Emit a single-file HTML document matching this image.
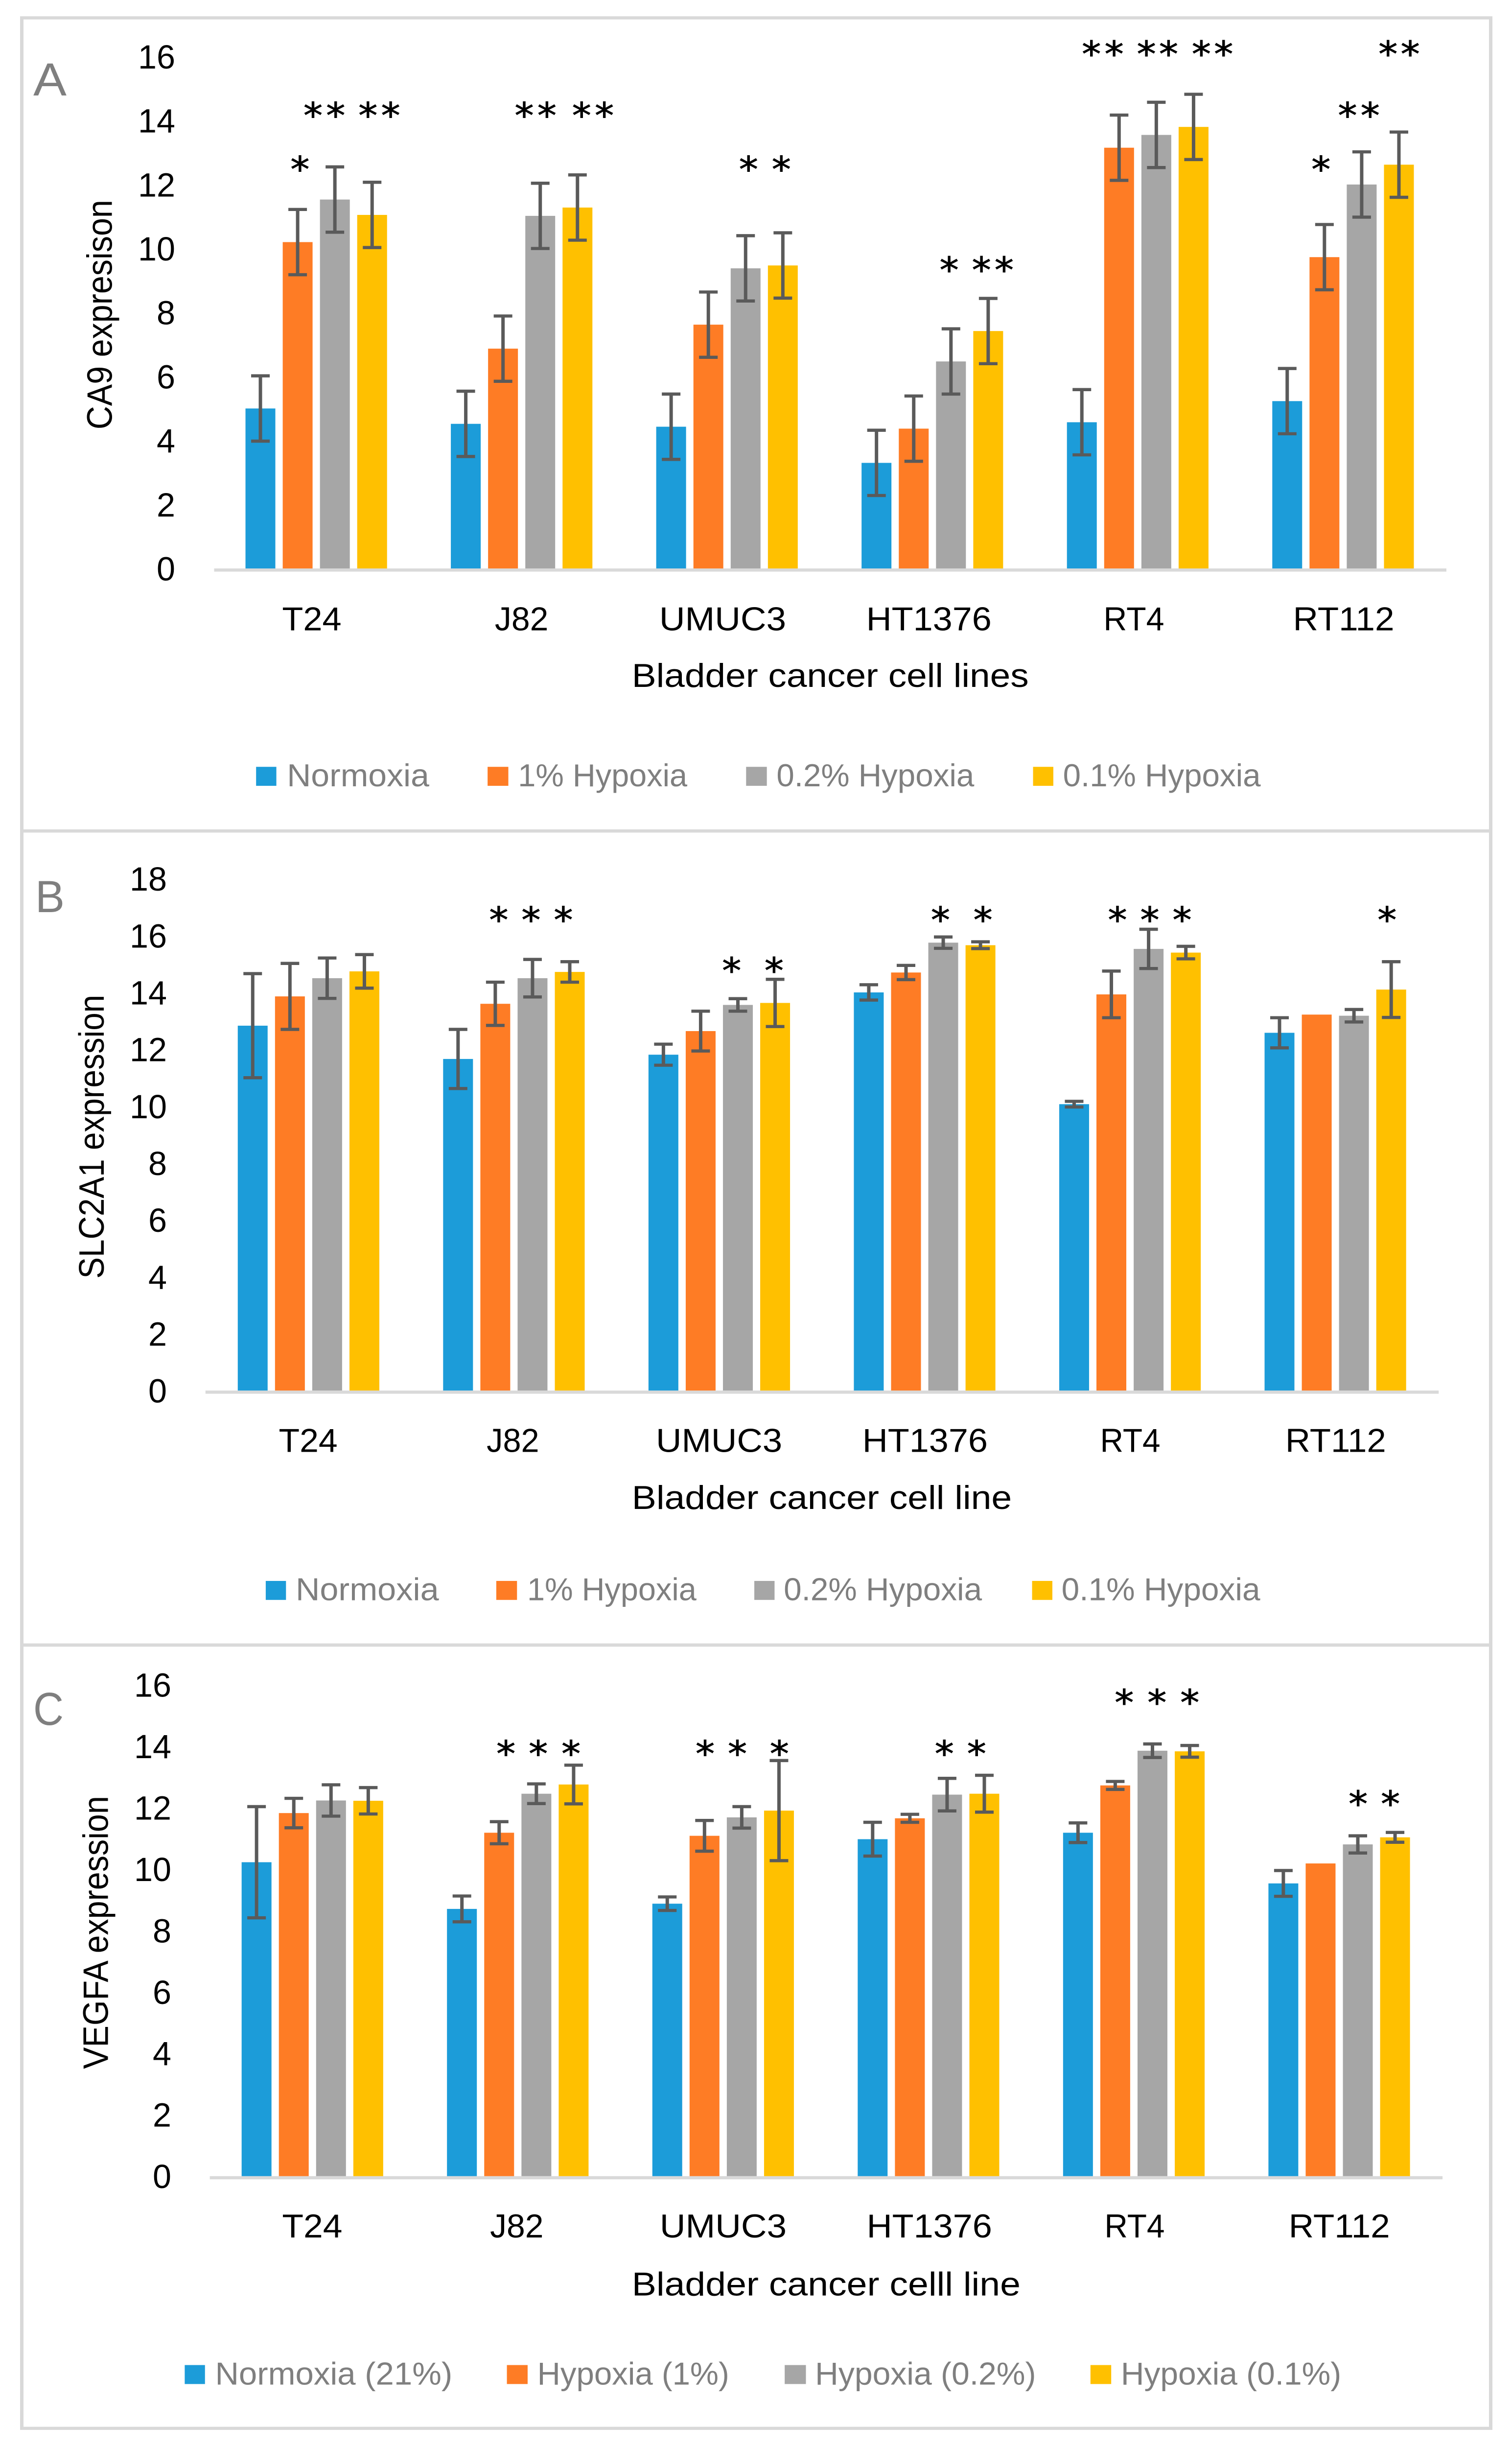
<!DOCTYPE html>
<html lang="en">
<head>
<meta charset="utf-8">
<title>Bladder cancer hypoxia marker expression</title>
<style>
html,body{margin:0;padding:0;background:#fff;width:100%;height:100%;overflow:hidden}
svg{display:block;width:100vw;height:100vh}
text{font-family:"Liberation Sans",sans-serif}
.star{font-family:"DejaVu Sans",sans-serif;stroke:#000;stroke-width:1.1}
</style>
</head>
<body>
<svg id="figure" xmlns="http://www.w3.org/2000/svg" viewBox="0 0 3089 5416" preserveAspectRatio="none">
<rect x="0" y="0" width="3089" height="5416" fill="#ffffff"/>
</svg>
<script>
// ---------- shared data ----------
const categories = ['T24','J82','UMUC3','HT1376','RT4','RT112'];
const ticksTo16 = [0,2,4,6,8,10,12,14,16];
const ticksTo18 = [0,2,4,6,8,10,12,14,16,18];

// ---------- panel A: CA9 ----------
const caNormoxia = [5.0,4.52,4.43,3.3,4.57,5.23];
const caHypoxia1 = [10.2,6.87,7.62,4.37,13.15,9.73];
const caHypoxia02 = [11.53,11.02,9.38,6.47,13.55,12.0];
const caHypoxia01 = [11.05,11.28,9.47,7.42,13.8,12.62];
const caErrNormoxia = [1.02,1.02,1.02,1.02,1.02,1.02];
const caErrHypoxia1 = [1.02,1.02,1.02,1.02,1.02,1.02];
const caErrHypoxia02 = [1.02,1.02,1.02,1.02,1.02,1.02];
const caErrHypoxia01 = [1.02,1.02,1.02,1.02,1.02,1.02];
const caLegend = ['Normoxia','1% Hypoxia','0.2% Hypoxia','0.1% Hypoxia'];

// ---------- panel B: SLC2A1 ----------
const slcNormoxia = [12.83,11.66,11.81,14.0,10.07,12.58];
const slcHypoxia1 = [13.86,13.6,12.64,14.7,13.93,13.22];
const slcHypoxia02 = [14.5,14.5,13.56,15.75,15.53,13.18];
const slcHypoxia01 = [14.74,14.72,13.63,15.66,15.4,14.1];
const slcErrNormoxia = [1.83,1.04,0.37,0.27,0.1,0.53];
const slcErrHypoxia1 = [1.16,0.76,0.7,0.25,0.82,0];
const slcErrHypoxia02 = [0.71,0.66,0.22,0.2,0.69,0.22];
const slcErrHypoxia01 = [0.59,0.36,0.83,0.12,0.22,0.98];
const slcLegend = ['Normoxia','1% Hypoxia','0.2% Hypoxia','0.1% Hypoxia'];

// ---------- panel C: VEGFA ----------
const vegfNormoxia = [10.22,8.7,8.87,10.97,11.18,9.53];
const vegfHypoxia1 = [11.82,11.18,11.08,11.65,12.72,10.18];
const vegfHypoxia02 = [12.23,12.45,11.68,12.42,13.85,10.8];
const vegfHypoxia01 = [12.22,12.75,11.9,12.45,13.83,11.03];
const vegfErrNormoxia = [1.81,0.42,0.22,0.55,0.32,0.42];
const vegfErrHypoxia1 = [0.48,0.36,0.5,0.13,0.13,0];
const vegfErrHypoxia02 = [0.51,0.32,0.35,0.53,0.22,0.28];
const vegfErrHypoxia01 = [0.43,0.63,1.63,0.6,0.19,0.16];
const vegfLegend = ['Normoxia (21%)','Hypoxia (1%)','Hypoxia (0.2%)','Hypoxia (0.1%)'];

// ---------- styling ----------
const seriesColors = ['#1c9cd9','#fe7c25','#a6a6a6','#ffc000'];
const seriesKeys = ['normoxia','hypoxia-1','hypoxia-0-2','hypoxia-0-1'];
const SVG_NS = 'http://www.w3.org/2000/svg';
const svg = document.getElementById('figure');

function shape(tag, name, props, parent){
  const el = document.createElementNS(SVG_NS, tag);
  
  
  for (const k in props) el.setAttribute(k, props[k]);
  (parent || svg).appendChild(el);
  return el;
}
function label(name, str, x, y, size, fill, anchor, fitWidth, parent, rotate){
  const props = {x:x, y:y, 'font-size':size, fill:fill, 'text-anchor':anchor};
  if (fitWidth){ props.textLength = fitWidth; props.lengthAdjust = 'spacingAndGlyphs'; }
  if (rotate) props.transform = 'rotate(-90 ' + x + ' ' + y + ')';
  const t = shape('text', name, props, parent);
  t.textContent = str;
  return t;
}

// Page-level layout; zoom measurements converted through panel scale functions
const sx = z => z / 1.0149;
const yA = z => z / 0.8476;
const yB = z => 1820 + z / 0.8476;
const yC = z => 3640 + z / 0.8829;
const Z2 = 1568; // x offset for right half measurements

function drawPanel(p){
  const g = shape('g', 'panel-' + p.id, {});
  // frame
  shape('rect', 'panel-' + p.id + '-frame', {x:p.frame[0], y:p.frame[1], width:p.frame[2], height:p.frame[3], fill:'none', stroke:'#d9d9d9', 'stroke-width':7}, g);
  // letter
  label('panel-letter-' + p.id, p.letter[0], p.letter[1], p.letter[2], p.letter[3], '#7f7f7f', 'start', p.letter[4], g);

  // axis functions
  const yOf = v => p.y0 - v * p.unit;
  const barX = (c, s) => p.barStart + c * p.catStep + s * p.barPitch;

  // y ticks
  const yAxis = shape('g', 'y-axis', {}, g);
  p.ticks.forEach(t => {
    label('y-tick-' + t, String(t), p.tickRight, yOf(t) + 26.5, 74, '#000', 'end', String(t).length === 2 ? 76 : 38, yAxis);
  });
  // y title
  label('y-axis-title', p.yTitle[0], p.yTitle[1], p.yTitle[2], 72, '#000', 'middle', p.yTitle[3], g, true);

  // x axis line
  shape('rect', 'x-axis-line', {x:p.axisLeft, y:p.y0, width:p.axisRight - p.axisLeft, height:7, fill:'#d9d9d9'}, g);

  // bars + error bars
  p.values.forEach((vals, s) => {
    const sg = shape('g', 'series-' + seriesKeys[s], {}, g);
    vals.forEach((v, c) => {
      const x = barX(c, s), top = yOf(v);
      shape('rect', 'bar-' + categories[c].toLowerCase() + '-' + seriesKeys[s], {x:x, y:top, width:p.barW, height:p.y0 - top, fill:seriesColors[s]}, sg);
    });
  });
  p.values.forEach((vals, s) => {
    const eg = shape('g', 'error-bars-' + seriesKeys[s], {}, g);
    vals.forEach((v, c) => {
      const e = p.errors[s][c];
      if (!e) return;
      const cx = barX(c, s) + p.barW / 2, hi = yOf(v + e), lo = yOf(v - e);
      shape('path', 'error-bar-' + categories[c].toLowerCase() + '-' + seriesKeys[s], {
        d:'M' + (cx - 19) + ' ' + hi + 'H' + (cx + 19) + 'M' + cx + ' ' + hi + 'V' + lo + 'M' + (cx - 19) + ' ' + lo + 'H' + (cx + 19),
        stroke:'#5a5a5a', 'stroke-width':7, fill:'none'}, eg);
    });
  });

  // category labels
  const xAxis = shape('g', 'x-axis-labels', {}, g);
  categories.forEach((c, i) => {
    const [a, b] = p.catSpan[i];
    label('x-label-' + c.toLowerCase(), c, (a + b) / 2, p.catBase, 73, '#000', 'middle', b - a, xAxis);
  });
  // x title
  label('x-axis-title', p.xTitle[0], (p.xTitle[1] + p.xTitle[2]) / 2, p.xTitle[3], 73, '#000', 'middle', p.xTitle[2] - p.xTitle[1], g);

  // legend
  const lg = shape('g', 'legend', {}, g);
  p.legend.forEach((name, i) => {
    const e = p.legendBoxes[i];
    const entry = shape('g', 'legend-entry-' + seriesKeys[i], {}, lg);
    shape('rect', 'legend-swatch-' + seriesKeys[i], {x:e[0], y:p.legendY, width:e[1] - e[0], height:42, fill:seriesColors[i]}, entry);
    label('legend-label-' + seriesKeys[i], name, (e[2] + e[3]) / 2, p.legendY + 43, 70, '#7f7f7f', 'middle', e[3] - e[2], entry);
  });

  // significance stars
  const sg = shape('g', 'significance-stars', {}, g);
  p.stars.forEach(row => {
    row[1].forEach(x => {
      const t = shape('text', 'significance-star', {x:x, y:row[0] + 36, 'font-size':78, fill:'#000', 'text-anchor':'middle', class:'star'}, sg);
      t.textContent = '*';
    });
  });
}

const barW = 61, barPitch = sx(77.2), catStep = sx(425.8);

drawPanel({
  id:'a', letter:['A',68,211,103,68], frame:[44.5,39.5,3001,1799],
  ticks:ticksTo16, y0:yA(1066), unit:60/0.8476, tickRight:358,
  yTitle:['CA9 expresison',sx(232),yA(590),508],
  axisLeft:sx(444), axisRight:sx(1431+Z2), barStart:sx(509), barW, barPitch, catStep,
  values:[caNormoxia,caHypoxia1,caHypoxia02,caHypoxia01],
  errors:[caErrNormoxia,caErrHypoxia1,caErrHypoxia02,caErrHypoxia01],
  catBase:yA(1182),
  catSpan:[[sx(585),sx(708)],[sx(1026),sx(1137)],[sx(1367),sx(62+Z2)],[sx(228+Z2),sx(488+Z2)],[sx(720+Z2),sx(846+Z2)],[sx(1113+Z2),sx(1323+Z2)]],
  xTitle:['Bladder cancer cell lines',sx(1310),sx(565+Z2),yA(1288)],
  legend:caLegend, legendY:yA(1438),
  legendBoxes:[[sx(531),sx(573),sx(595),sx(890)],[sx(1011),sx(1054),sx(1074),sx(1425)],[sx(1547),sx(22+Z2),sx(42+Z2),sx(452+Z2)],[sx(574+Z2),sx(616+Z2),sx(636+Z2),sx(1046+Z2)]],
  stars:[
    [yA(310),[622,1552,52+Z2,1171+Z2].map(sx)],
    [yA(209),[649,696,763,810,1087,1134,1206,1253,1226+Z2,1273+Z2].map(sx)],
    [yA(499),[400+Z2,467+Z2,514+Z2].map(sx)],
    [yA(94),[695+Z2,742+Z2,809+Z2,855+Z2,923+Z2,969+Z2,1310+Z2,1356+Z2].map(sx)]
  ]
});

drawPanel({
  id:'b', letter:['B',72,2018,100,60], frame:[44.5,1838.5,3001,1801],
  ticks:ticksTo18, y0:yB(1065), unit:53.33/0.8476, tickRight:341,
  yTitle:['SLC2A1 expression',sx(215),yB(589),628],
  axisLeft:sx(426), axisRight:sx(1415+Z2), barStart:sx(493), barW, barPitch, catStep,
  values:[slcNormoxia,slcHypoxia1,slcHypoxia02,slcHypoxia01],
  errors:[slcErrNormoxia,slcErrHypoxia1,slcErrHypoxia02,slcErrHypoxia01],
  catBase:yB(1180),
  catSpan:[[sx(578),sx(700)],[sx(1009),sx(1118)],[sx(1360),sx(54+Z2)],[sx(220+Z2),sx(480+Z2)],[sx(713+Z2),sx(838+Z2)],[sx(1097+Z2),sx(1306+Z2)]],
  xTitle:['Bladder cancer cell line',sx(1310),sx(530+Z2),yB(1287)],
  legend:slcLegend, legendY:yB(1422),
  legendBoxes:[[sx(551),sx(593),sx(613),sx(910)],[sx(1029),sx(1072),sx(1093),sx(1444)],[sx(1564),sx(38+Z2),sx(57+Z2),sx(468+Z2)],[sx(572+Z2),sx(614+Z2),sx(633+Z2),sx(1045+Z2)]],
  stars:[
    [yB(175),[1034,1101,1168,382+Z2,470+Z2,749+Z2,816+Z2,883+Z2,1308+Z2].map(sx)],
    [yB(270),[1517,37+Z2].map(sx)]
  ]
});

drawPanel({
  id:'c', letter:['C',68,3816,103,62], frame:[44.5,3639.5,3001,1733],
  ticks:ticksTo16, y0:yC(1037), unit:60/0.8829, tickRight:350,
  yTitle:['VEGFA expression',sx(224),yC(561),604],
  axisLeft:sx(435), axisRight:sx(1423+Z2), barStart:sx(501), barW, barPitch, catStep,
  values:[vegfNormoxia,vegfHypoxia1,vegfHypoxia02,vegfHypoxia01],
  errors:[vegfErrNormoxia,vegfErrHypoxia1,vegfErrHypoxia02,vegfErrHypoxia01],
  catBase:yC(1157),
  catSpan:[[sx(585),sx(710)],[sx(1016),sx(1127)],[sx(1368),sx(63+Z2)],[sx(229+Z2),sx(489+Z2)],[sx(722+Z2),sx(847+Z2)],[sx(1104+Z2),sx(1314+Z2)]],
  xTitle:['Bladder cancer celll line',sx(1310),sx(548+Z2),yC(1270)],
  legend:vegfLegend, legendY:yC(1406),
  legendBoxes:[[sx(383),sx(425),sx(446),sx(938)],[sx(1051),sx(1094),sx(1114),sx(1512)],[sx(59+Z2),sx(103+Z2),sx(122+Z2),sx(580+Z2)],[sx(693+Z2),sx(736+Z2),sx(756+Z2),sx(1213+Z2)]],
  stars:[
    [yC(204),[1049,1116,1184,1462,1529,48+Z2,390+Z2,457+Z2].map(sx)],
    [yC(104),[763+Z2,831+Z2,899+Z2].map(sx)],
    [yC(302),[1248+Z2,1315+Z2].map(sx)]
  ]
});
</script>
</body>
</html>
